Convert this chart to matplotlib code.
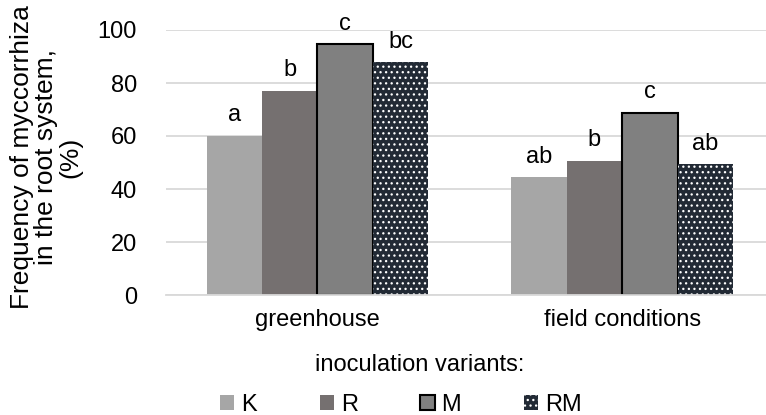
import matplotlib
matplotlib.use("Agg")
import matplotlib.pyplot as plt
from matplotlib.patches import Patch
import numpy as np

plt.rcParams['font.family'] = ['Liberation Sans', 'DejaVu Sans']
plt.rcParams['hatch.linewidth'] = 0.9

categories = ["greenhouse", "field conditions"]
series_names = ["K", "R", "M", "RM"]
values = {
    "K": [60.1, 44.4],
    "R": [77.1, 50.7],
    "M": [94.7, 68.8],
    "RM": [87.8, 49.4],
}
letters = {
    "K": ["a", "ab"],
    "R": ["b", "b"],
    "M": ["c", "c"],
    "RM": ["bc", "ab"],
}
yticks = [0, 20, 40, 60, 80, 100]

fig = plt.figure(figsize=(7.66, 4.15), dpi=100)
ax = fig.add_axes([166/766, (415-295)/415, 600/766, 265/415])

styles = {
    "K": dict(color="#a6a6a6", edgecolor="#a6a6a6", linewidth=0),
    "R": dict(color="#757070", edgecolor="#757070", linewidth=0),
    "M": dict(facecolor="#808080", edgecolor="black", linewidth=1.5),
    "RM": dict(facecolor="#222a35", edgecolor="white", linewidth=0, hatch="..."),
}

x = np.arange(len(categories))
w = 0.182
offsets = [-1.5, -0.5, 0.5, 1.5]
fs = 17
for s, off in zip(series_names, offsets):
    bars = ax.bar(x + off * w, values[s], w, zorder=3, **styles[s])
    if s == "RM":
        for b in bars:
            b.set_edgecolor("white")
            b.set_linewidth(0)
    for xi, v, lab in zip(x + off * w, values[s], letters[s]):
        ax.text(xi, v + 3.5, lab, ha="center", va="bottom", fontsize=fs, color="black")

ax.set_ylim(0, 100)
ax.set_xlim(-0.497, 1.472)
ax.set_yticks(yticks)
ax.set_yticklabels([str(t) for t in yticks], fontsize=fs)
ax.set_xticks(x)
ax.set_xticklabels(categories, fontsize=fs)
ax.tick_params(axis="both", length=0, colors="black")
ax.tick_params(axis="y", pad=21)
ax.tick_params(axis="x", pad=10)
ax.yaxis.grid(True, color="#d9d9d9", linewidth=1.3, zorder=0)
ax.set_axisbelow(True)
for sp in ["top", "right", "left"]:
    ax.spines[sp].set_visible(False)
ax.spines["bottom"].set_color("#d9d9d9")
ax.spines["bottom"].set_linewidth(1.3)
ax.spines["bottom"].set_zorder(4)

fig.text(46/766, 1 - 157/415, "Frequency of myccorrhiza\nin the root system,\n(%)",
         rotation=90, ha="center", va="center", fontsize=19, linespacing=1.0)
fig.text(420/766, 1 - 365/415, "inoculation variants:", ha="center", va="center", fontsize=fs)

handles = [Patch(facecolor=styles[s].get("color", styles[s].get("facecolor")),
                 edgecolor=("black" if s == "M" else styles[s].get("color", styles[s].get("facecolor"))),
                 linewidth=(1.5 if s == "M" else 0),
                 hatch=styles[s].get("hatch")) for s in series_names]
for h, s in zip(handles, series_names):
    if s == "RM":
        h.set_edgecolor("white")
leg = fig.legend(handles, series_names, loc="center", bbox_to_anchor=(401/766, 1 - 405/415),
                 ncol=4, frameon=False, fontsize=fs, handlelength=0.6, handleheight=0.6,
                 handletextpad=0.3, columnspacing=2.65, borderpad=0)

fig.savefig("out.png", dpi=100)
